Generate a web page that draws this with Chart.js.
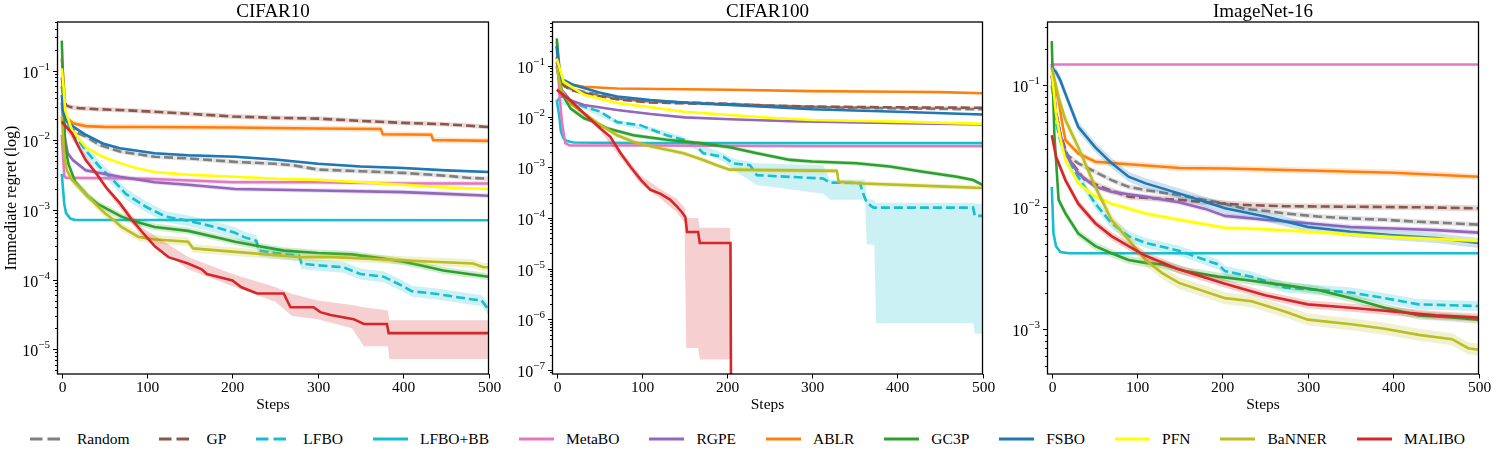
<!DOCTYPE html>
<html>
<head>
<meta charset="utf-8">
<script src="https://cdn.jsdelivr.net/npm/chart.js@4.4.1/dist/chart.umd.min.js"></script>
<style>
  body { margin: 0; background: #fff; width: 1495px; height: 459px; position: relative; overflow: hidden;
         font-family: 'Liberation Serif', 'Times New Roman', 'DejaVu Serif', serif; }
  canvas { position: absolute; left: 0; top: 0; }
  #legend { position: absolute; left: 0; top: 429px; width: 1495px; height: 20px; display: flex;
            justify-content: center; align-items: center; font-size: 15.5px; color: #000;
            font-family: 'Liberation Serif', 'Times New Roman', 'DejaVu Serif', serif; }
  .item { display: flex; align-items: center; margin-right: 30px; }
  .item:last-child { margin-right: 0; }
  .item svg { margin-right: 12px; }
</style>
</head>
<body>
<canvas id="c10" width="1495" height="420"></canvas>
<canvas id="c100" width="1495" height="420"></canvas>
<canvas id="in16" width="1495" height="420"></canvas>
<div id="legend"></div>
<script>
// methods in legend order
const methods = ['Random', 'GP', 'LFBO', 'LFBO+BB', 'MetaBO', 'RGPE', 'ABLR', 'GC3P', 'FSBO', 'PFN', 'BaNNER', 'MALIBO'];
const xTicks = [0, 100, 200, 300, 400, 500];

// ---- CIFAR10: [step, regret] ----
const c10Random = [[0,0.06],[5,0.02],[10,0.015],[20,0.0125],[28,0.0113],[44,0.0086],[68,0.0069],[109,0.0058],[148,0.0055],[203,0.0049],[250,0.0046],[270,0.0044],[300,0.0038],[350,0.0036],[400,0.0034],[450,0.0031],[475,0.0029],[500,0.0028]];
const c10GP = [[0,0.08],[3,0.04],[5,0.032],[10,0.03],[20,0.029],[40,0.028],[75,0.027],[100,0.026],[150,0.024],[200,0.022],[250,0.021],[300,0.0205],[350,0.019],[400,0.0178],[450,0.017],[500,0.0155]];
const c10LFBO = [[0,0.03],[5,0.02],[13,0.0127],[28,0.0072],[44,0.0042],[60,0.0027],[75,0.0017],[99,0.0011],[122,0.0008],[148,0.0007],[179,0.00057],[203,0.00047],[215,0.0004],[228,0.00036],[231,0.00026],[250,0.00024],[278,0.00022],[281,0.00017],[300,0.00016],[330,0.00015],[350,0.00012],[377,0.00011],[400,0.00008],[410,0.000068],[440,0.000062],[480,0.000052],[492,0.00005],[500,0.000037]];
const c10LFBOBB = [[0,0.0033],[3,0.0012],[5,0.0009],[10,0.00075],[15,0.00072],[500,0.00071]];
const c10MetaBO = [[0,0.012],[3,0.003],[5,0.0029],[100,0.0028],[200,0.0025],[300,0.0025],[400,0.0024],[500,0.0024]];
const c10RGPE = [[0,0.035],[3,0.012],[7,0.0065],[13,0.0052],[28,0.0037],[44,0.0034],[68,0.003],[109,0.0025],[148,0.0023],[203,0.002],[300,0.0019],[400,0.0018],[450,0.0017],[500,0.0016]];
const c10ABLR = [[0,0.15],[3,0.05],[4,0.022],[13,0.0176],[28,0.016],[50,0.0156],[100,0.0155],[200,0.0153],[300,0.0148],[374,0.0145],[376,0.0122],[433,0.012],[435,0.0101],[500,0.0098]];
const c10GC3P = [[0,0.27],[2,0.05],[4,0.008],[8,0.0045],[16,0.0025],[30,0.0016],[43,0.0012],[70,0.0008],[86,0.00068],[109,0.00057],[148,0.0005],[187,0.00039],[203,0.00035],[225,0.00031],[260,0.00026],[300,0.00024],[340,0.00023],[377,0.0002],[400,0.00018],[420,0.00016],[447,0.000135],[500,0.00011]];
const c10FSBO = [[0,0.045],[2,0.025],[6,0.019],[13,0.0158],[28,0.012],[48,0.009],[68,0.0077],[109,0.0065],[148,0.0061],[203,0.0058],[250,0.0053],[300,0.0046],[350,0.0042],[400,0.004],[450,0.0037],[500,0.0035]];
const c10PFN = [[0,0.108],[2,0.059],[4,0.027],[12,0.014],[28,0.008],[48,0.0058],[68,0.0047],[87,0.004],[109,0.0035],[148,0.0032],[203,0.003],[250,0.0028],[300,0.0027],[350,0.0025],[400,0.0023],[450,0.0021],[500,0.002]];
const c10BaNNER = [[0,0.022],[3,0.006],[6,0.0037],[12,0.0027],[28,0.0017],[43,0.0011],[51,0.00089],[62,0.0007],[70,0.00057],[90,0.00041],[107,0.00038],[148,0.00035],[154,0.00028],[203,0.00025],[240,0.00023],[279,0.00021],[318,0.00021],[357,0.0002],[396,0.00019],[435,0.00018],[482,0.00017],[494,0.00015],[500,0.00015]];
const c10MALIBO = [[0,0.0185],[12,0.0126],[21,0.0075],[28,0.0052],[40,0.0034],[52,0.0021],[68,0.00125],[83,0.0007],[95,0.00047],[109,0.0003],[125,0.00021],[148,0.00017],[164,0.00014],[170,0.00012],[200,0.000097],[210,0.000078],[229,0.000063],[260,0.000063],[268,0.00004],[295,0.00004],[303,0.000034],[315,0.000031],[342,0.000027],[354,0.000023],[381,0.000023],[383,0.000017],[500,0.000017]];
const c10Spread = [1.08, 1.08, 1.2, 1.02, 1.08, 1.08, 1.1, 1.12, 1.04, 1.05, 1.15, 1.1];
// [step, lower, upper]
const c10MALIBOBand = [[0,0.017,0.02],[52,0.0019,0.0023],[95,0.0004,0.00055],[148,0.00014,0.00021],[200,0.00008,0.00012],[250,0.000048,0.000078],[270,0.00003,0.000062],[300,0.000027,0.00005],[340,0.00002,0.000043],[354,0.000011,0.00004],[382,0.000011,0.000036],[384,0.0000072,0.000026],[500,0.0000072,0.000026]];

// ---- CIFAR100 ----
const c100Random = [[0,0.12],[3,0.06],[5,0.045],[8,0.04],[16,0.036],[32,0.031],[71,0.023],[110,0.02],[203,0.018],[250,0.0165],[300,0.0155],[400,0.0145],[500,0.014]];
const c100GP = [[0,0.15],[3,0.07],[5,0.05],[8,0.042],[16,0.034],[32,0.029],[71,0.022],[110,0.019],[203,0.0175],[250,0.0165],[300,0.0158],[350,0.0155],[400,0.0153],[500,0.015]];
const c100LFBO = [[0,0.02],[5,0.025],[10,0.024],[20,0.019],[32,0.0157],[51,0.0126],[71,0.0078],[98,0.0068],[112,0.0055],[129,0.0043],[149,0.0035],[164,0.0026],[172,0.0019],[196,0.0016],[207,0.0012],[227,0.0011],[235,0.0007],[313,0.0006],[321,0.0005],[356,0.00049],[360,0.0003],[364,0.0002],[372,0.00016],[489,0.00016],[491,0.00011],[500,0.00011]];
const c100LFBOBB = [[0,0.021],[3,0.01],[5,0.005],[8,0.0037],[12,0.0033],[20,0.0031],[100,0.003],[500,0.003]];
const c100MetaBO = [[0,0.25],[3,0.03],[6,0.008],[10,0.003],[15,0.0027],[100,0.0027],[300,0.0026],[500,0.0026]];
const c100RGPE = [[0,0.1],[3,0.05],[5,0.035],[10,0.028],[16,0.021],[32,0.017],[71,0.0135],[110,0.0113],[150,0.0097],[203,0.0089],[275,0.0081],[370,0.0076],[500,0.007]];
const c100ABLR = [[0,0.3],[2,0.12],[5,0.053],[10,0.045],[32,0.039],[71,0.036],[203,0.034],[300,0.032],[400,0.031],[450,0.0305],[500,0.029]];
const c100GC3P = [[0,0.35],[3,0.097],[6,0.029],[16,0.0146],[32,0.0093],[43,0.008],[59,0.0059],[90,0.0043],[129,0.0035],[168,0.003],[203,0.0025],[235,0.0019],[274,0.0014],[300,0.0013],[352,0.0012],[391,0.00104],[430,0.00082],[470,0.00065],[489,0.00056],[500,0.00045]];
const c100FSBO = [[0,0.25],[2,0.1],[5,0.057],[8,0.053],[20,0.042],[50,0.03],[71,0.025],[110,0.0213],[150,0.019],[203,0.017],[250,0.0155],[300,0.014],[400,0.0125],[500,0.011]];
const c100PFN = [[0,0.14],[8,0.049],[32,0.027],[71,0.0186],[110,0.0153],[150,0.0125],[203,0.0108],[250,0.0095],[300,0.0086],[400,0.008],[500,0.0072]];
const c100BaNNER = [[0,0.097],[5,0.034],[16,0.0183],[32,0.0116],[51,0.0069],[71,0.0043],[90,0.0032],[110,0.0026],[149,0.0019],[172,0.0014],[188,0.0011],[203,0.0009],[250,0.00088],[329,0.00085],[331,0.00052],[360,0.00048],[450,0.00042],[500,0.00039]];
const c100MALIBO = [[0,0.034],[16,0.021],[32,0.0116],[51,0.0059],[63,0.004],[75,0.0019],[87,0.001],[99,0.00056],[110,0.00036],[122,0.0003],[133,0.00023],[141,0.00017],[147,0.00013],[151,0.000105],[153,0.000053],[166,0.000053],[168,0.000032],[204,0.000032],[205,1e-9]];
const c100Spread = [1.06, 1.06, 1.1, 1.02, 1.03, 1.04, 1.03, 1.1, 1.04, 1.04, 1.12, 1.1];
const c100LFBOBand = [[0,0.018,0.024],[32,0.014,0.018],[71,0.007,0.0087],[112,0.005,0.0062],[149,0.0031,0.004],[164,0.0022,0.003],[196,0.0013,0.0019],[207,0.0009,0.0015],[235,0.00045,0.0012],[313,0.0003,0.0011],[321,0.00023,0.00057],[362,0.00023,0.00057],[364,0.00003,0.00025],[373,0.00003,0.00022],[375,0.00000083,0.0002],[489,0.00000083,0.0002],[491,0.00000052,0.00019],[500,0.00000052,0.00019]];
const c100MALIBOBand = [[0,0.03,0.038],[51,0.0052,0.0067],[99,0.00046,0.00068],[122,0.00024,0.00037],[141,0.00013,0.00024],[150,0.00008,0.00016],[152,0.00000027,0.0001],[166,0.00000027,0.0001],[168,0.00000016,0.000064],[204,0.00000016,0.000064]];

// ---- ImageNet-16 ----
const in16Random = [[0,0.12],[5,0.06],[10,0.04],[16,0.0276],[31,0.0229],[51,0.0195],[70,0.0167],[90,0.0147],[110,0.0138],[149,0.0126],[203,0.0107],[226,0.0097],[254,0.0093],[273,0.0089],[312,0.0084],[351,0.0081],[390,0.0079],[430,0.0076],[469,0.0074],[500,0.0072]];
const in16GP = [[0,0.12],[5,0.06],[10,0.04],[20,0.025],[38,0.017],[60,0.0145],[90,0.0122],[149,0.0115],[203,0.0107],[234,0.0104],[273,0.0102],[351,0.0101],[430,0.01],[500,0.0098]];
const in16LFBO = [[0,0.1],[5,0.05],[10,0.035],[24,0.0215],[31,0.0178],[51,0.0107],[70,0.0074],[90,0.0058],[110,0.0051],[149,0.0044],[175,0.0038],[195,0.0034],[203,0.003],[234,0.0027],[273,0.0022],[312,0.0021],[351,0.002],[390,0.0018],[430,0.0016],[500,0.00155]];
const in16LFBOBB = [[0,0.0147],[2,0.0061],[5,0.0048],[10,0.0043],[20,0.0042],[500,0.0042]];
const in16MetaBO = [[0,0.148],[500,0.148]];
const in16RGPE = [[0,0.15],[5,0.06],[10,0.04],[16,0.0276],[31,0.019],[51,0.0147],[70,0.0134],[110,0.0122],[149,0.011],[180,0.0097],[203,0.0085],[250,0.0079],[300,0.0074],[350,0.0069],[400,0.0067],[450,0.0065],[500,0.0062]];
const in16ABLR = [[0,0.14],[5,0.09],[8,0.075],[12,0.05],[16,0.0355],[31,0.0276],[51,0.0236],[110,0.022],[150,0.021],[203,0.0208],[300,0.02],[400,0.0192],[450,0.0185],[500,0.0178]];
const in16GC3P = [[0,0.23],[3,0.04],[8,0.0115],[16,0.0089],[31,0.0061],[51,0.0048],[70,0.0042],[90,0.0037],[110,0.0035],[130,0.0034],[156,0.003],[195,0.0027],[234,0.0025],[273,0.0023],[312,0.0021],[351,0.0018],[390,0.0015],[430,0.0013],[469,0.00125],[500,0.0012]];
const in16FSBO = [[0,0.14],[5,0.128],[10,0.11],[16,0.085],[31,0.0456],[51,0.031],[70,0.023],[90,0.0178],[110,0.0157],[149,0.013],[203,0.0098],[250,0.0084],[300,0.0069],[350,0.0063],[400,0.0059],[450,0.0056],[500,0.0051]];
const in16PFN = [[0,0.13],[5,0.058],[10,0.037],[16,0.0243],[31,0.0157],[51,0.0122],[70,0.0107],[110,0.0089],[149,0.0079],[203,0.0068],[250,0.0066],[300,0.0063],[400,0.0057],[500,0.0053]];
const in16BaNNER = [[0,0.14],[8,0.08],[16,0.052],[31,0.031],[51,0.0147],[70,0.0079],[90,0.0054],[110,0.0037],[129,0.0029],[149,0.0024],[203,0.0018],[234,0.0017],[273,0.0014],[300,0.0012],[351,0.0011],[390,0.00101],[430,0.0009],[469,0.00083],[488,0.0007],[500,0.00068]];
const in16MALIBO = [[0,0.039],[5,0.026],[16,0.0167],[31,0.0107],[51,0.0074],[70,0.0058],[90,0.0048],[110,0.004],[149,0.0031],[200,0.0024],[250,0.0019],[300,0.0016],[350,0.0015],[400,0.0014],[450,0.0013],[500,0.00125]];
const in16Spread = [1.05, 1.06, 1.1, 1.02, 1.01, 1.05, 1.06, 1.08, 1.1, 1.05, 1.12, 1.08];

// ---- styles ----
const colors = ['#7f7f7f', '#8c564b', '#17becf', '#17becf', '#e377c2', '#9467bd', '#ff7f0e', '#2ca02c', '#1f77b4', '#ffff00', '#bcbd22', '#d62728'];
const dashed = [true, true, true, false, false, false, false, false, false, false, false, false];
const FONT = "'Liberation Serif', 'Times New Roman', 'DejaVu Serif', serif";

const panels = [
    { id: 'c10', title: 'CIFAR10', left: 57.5, right: 488.5, yMin: 4.4e-6, yMax: 0.5, yLabel: true,
      series: [c10Random, c10GP, c10LFBO, c10LFBOBB, c10MetaBO, c10RGPE, c10ABLR, c10GC3P, c10FSBO, c10PFN, c10BaNNER, c10MALIBO],
      spread: c10Spread, bands: { 11: c10MALIBOBand } },
    { id: 'c100', title: 'CIFAR100', left: 552.5, right: 982.5, yMin: 8.3e-8, yMax: 0.74, yLabel: false,
      series: [c100Random, c100GP, c100LFBO, c100LFBOBB, c100MetaBO, c100RGPE, c100ABLR, c100GC3P, c100FSBO, c100PFN, c100BaNNER, c100MALIBO],
      spread: c100Spread, bands: { 2: c100LFBOBand, 11: c100MALIBOBand } },
    { id: 'in16', title: 'ImageNet-16', left: 1047.5, right: 1478.5, yMin: 4.3e-4, yMax: 0.33, yLabel: false,
      series: [in16Random, in16GP, in16LFBO, in16LFBOBB, in16MetaBO, in16RGPE, in16ABLR, in16GC3P, in16FSBO, in16PFN, in16BaNNER, in16MALIBO],
      spread: in16Spread, bands: {} }
];

function alpha(hex, a) {
    const n = parseInt(hex.slice(1), 16);
    return `rgba(${n >> 16},${(n >> 8) & 255},${n & 255},${a})`;
}

// frame, ticks, labels and titles in matplotlib style
const axesDecor = {
    id: 'axesDecor',
    afterDatasetsDraw(chart, args, opts) {
        const { ctx, chartArea: a, scales: { x, y } } = chart;
        ctx.save();
        ctx.strokeStyle = '#000';
        ctx.fillStyle = '#000';
        ctx.lineWidth = 1;
        // y ticks (log)
        const eLo = Math.floor(Math.log10(y.min)), eHi = Math.ceil(Math.log10(y.max));
        for (let e = eLo; e <= eHi; e++) {
            for (let m = 1; m < 10; m++) {
                const v = m * Math.pow(10, e);
                if (v < y.min * 0.999 || v > y.max * 1.001) continue;
                const py = Math.round(y.getPixelForValue(v)) + 0.5;
                const len = m === 1 ? 4.5 : 2.5;
                ctx.beginPath();
                ctx.moveTo(a.left - len, py);
                ctx.lineTo(a.left, py);
                ctx.stroke();
                if (m === 1) {
                    const exp = String(e).replace('-', '\u2212');
                    ctx.font = `11px ${FONT}`;
                    const ew = ctx.measureText(exp).width;
                    ctx.font = `16px ${FONT}`;
                    const bw = ctx.measureText('10').width;
                    const right = a.left - 7.5;
                    ctx.textAlign = 'left';
                    ctx.textBaseline = 'alphabetic';
                    ctx.fillText('10', right - ew - bw, py + 6);
                    ctx.font = `11px ${FONT}`;
                    ctx.fillText(exp, right - ew, py - 1.5);
                }
            }
        }
        // x ticks
        ctx.font = `15.5px ${FONT}`;
        ctx.textAlign = 'center';
        ctx.textBaseline = 'middle';
        xTicks.forEach(t => {
            const px = Math.round(x.getPixelForValue(t)) + 0.5;
            ctx.beginPath();
            ctx.moveTo(px, a.bottom);
            ctx.lineTo(px, a.bottom + 4.5);
            ctx.stroke();
            ctx.fillText(String(t), px, 388);
        });
        const cx = (a.left + a.right) / 2;
        ctx.fillText('Steps', cx, 405);
        ctx.font = `19px ${FONT}`;
        ctx.fillText(opts.title, cx, 12);
        if (opts.yLabel) {
            ctx.save();
            ctx.translate(12, (a.top + a.bottom) / 2);
            ctx.rotate(-Math.PI / 2);
            ctx.font = `16px ${FONT}`;
            ctx.fillText('Immediate regret (log)', 0, 0);
            ctx.restore();
        }
        // frame
        ctx.lineWidth = 1.3;
        ctx.strokeRect(a.left, a.top, a.right - a.left, a.bottom - a.top);
        ctx.restore();
    }
};

panels.forEach(p => {
    const datasets = [];
    p.series.forEach((pts, i) => {
        const depth = (12 - i) * 2;
        const band = p.bands[i];
        let lower = null, upper = null;
        if (band) {
            lower = band.map(([s, lo]) => ({ x: s, y: lo }));
            upper = band.map(([s, , hi]) => ({ x: s, y: hi }));
        } else if (p.spread[i] > 1.015) {
            const s = p.spread[i];
            lower = pts.map(([st, v]) => ({ x: st, y: v / s }));
            upper = pts.map(([st, v]) => ({ x: st, y: v * s }));
        }
        if (upper) {
            datasets.push({ data: upper, borderWidth: 0, pointRadius: 0, fill: false, order: depth + 1, clip: 0 });
            datasets.push({ data: lower, borderWidth: 0, pointRadius: 0, fill: '-1',
                            backgroundColor: alpha(colors[i], 0.22), order: depth + 1, clip: 0 });
        }
        datasets.push({
            label: methods[i],
            data: pts.map(([st, v]) => ({ x: st, y: v })),
            borderColor: colors[i],
            borderWidth: 2.6,
            borderDash: dashed[i] ? [9, 4] : [],
            pointRadius: 0,
            fill: false,
            tension: 0,
            order: depth,
            clip: 0
        });
    });

    new Chart(document.getElementById(p.id), {
        type: 'line',
        data: { datasets },
        options: {
            responsive: false,
            animation: false,
            devicePixelRatio: 1,
            events: [],
            layout: { autoPadding: false, padding: { left: p.left, right: 1495 - p.right, top: 22, bottom: 46 } },
            scales: {
                x: { type: 'linear', min: -5, max: 500, display: false },
                y: { type: 'logarithmic', min: p.yMin, max: p.yMax, bounds: 'data', display: false }
            },
            plugins: {
                legend: { display: false },
                tooltip: { enabled: false },
                axesDecor: { title: p.title, yLabel: p.yLabel }
            }
        },
        plugins: [axesDecor]
    });
});

// legend row
const legend = document.getElementById('legend');
methods.forEach((m, i) => {
    const item = document.createElement('div');
    item.className = 'item';
    const dash = dashed[i] ? 'stroke-dasharray="12.5 5"' : '';
    item.innerHTML = `<svg width="35" height="8"><line x1="0" y1="4" x2="35" y2="4" stroke="${colors[i]}" stroke-width="3.2" ${dash}/></svg><span>${m}</span>`;
    legend.appendChild(item);
});
</script>
</body>
</html>
